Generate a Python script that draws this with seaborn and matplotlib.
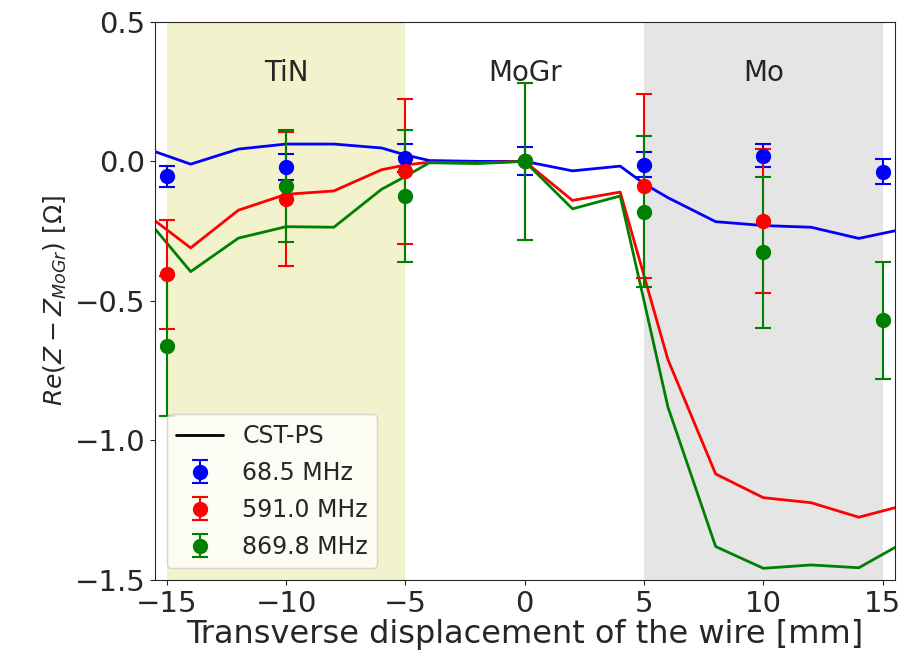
import numpy as np
import pandas as pd
import seaborn as sns
import matplotlib
matplotlib.use("Agg")
import matplotlib.pyplot as plt
from matplotlib.lines import Line2D

sns.set_style("ticks")
plt.rcParams['font.family'] = ['DejaVu Sans']

# CST-PS simulation curves
sim_x = [-16, -14, -12, -10, -8, -6, -5, -4, -2, 0, 2, 4, 5, 6, 8, 10, 12, 14, 16]
sim_68 = [0.05, -0.01, 0.044, 0.062, 0.062, 0.048, 0.023, 0.003, 0.0, 0.0,
          -0.034, -0.017, -0.08, -0.13, -0.216, -0.23, -0.236, -0.276, -0.24]
sim_591 = [-0.18, -0.31, -0.175, -0.118, -0.106, -0.03, -0.013, -0.003, -0.005, 0.0,
           -0.14, -0.11, -0.41, -0.71, -1.12, -1.205, -1.223, -1.275, -1.23]
sim_870 = [-0.19, -0.395, -0.275, -0.234, -0.236, -0.10, -0.054, -0.005, -0.008, 0.0,
           -0.17, -0.124, -0.50, -0.88, -1.38, -1.458, -1.446, -1.456, -1.36]

# measurements
meas_x = [-15, -10, -5, 0, 5, 10, 15]
meas_68 = [-0.054, -0.02, 0.011, 0.0, -0.012, 0.021, -0.037]
err_68 = [0.037, 0.045, 0.05, 0.05, 0.045, 0.042, 0.044]
meas_591 = [-0.405, -0.134, -0.036, 0.0, -0.088, -0.213, np.nan]
err_591 = [0.195, 0.24, 0.26, 0.28, 0.33, 0.258, np.nan]
meas_870 = [-0.662, -0.088, -0.124, 0.0, -0.18, -0.326, -0.57]
err_870 = [0.25, 0.2, 0.238, 0.28, 0.27, 0.27, 0.21]

freqs = ["68.5 MHz", "591.0 MHz", "869.8 MHz"]
colors = ["blue", "red", "green"]

sim = pd.DataFrame({
    "x": sim_x * 3,
    "val": sim_68 + sim_591 + sim_870,
    "freq": [freqs[0]] * len(sim_x) + [freqs[1]] * len(sim_x) + [freqs[2]] * len(sim_x),
})

fig = plt.figure(figsize=(9.11, 6.61), dpi=100)
ax = fig.add_axes([0.170, 0.1225, 0.812, 0.8445])

ax.axvspan(-15, -5, color="y", alpha=0.2, lw=0)
ax.axvspan(5, 15, color="gray", alpha=0.2, lw=0)

sns.lineplot(data=sim, x="x", y="val", hue="freq", palette=colors,
             linewidth=2, legend=False, ax=ax)

meas = [(meas_68, err_68), (meas_591, err_591), (meas_870, err_870)]
handles = [Line2D([], [], color="black", lw=2, label="CST-PS")]
for (m, e), c, lab in zip(meas, colors, freqs):
    h = ax.errorbar(meas_x, m, yerr=e, fmt="o", color=c, markersize=10,
                    capsize=6, elinewidth=1.5, capthick=1.5, label=lab)
    handles.append(h)

for xt, t in [(-10, "TiN"), (0, "MoGr"), (10, "Mo")]:
    ax.text(xt, 0.315, t, ha="center", va="center", fontsize=20)

ax.set_xlim(-15.5, 15.5)
ax.set_ylim(-1.5, 0.5)
ax.set_xticks([-15, -10, -5, 0, 5, 10, 15])
ax.set_yticks([-1.5, -1.0, -0.5, 0.0, 0.5])
ax.tick_params(labelsize=21)
ax.set_xlabel("Transverse displacement of the wire [mm]", fontsize=23, labelpad=1)
ax.set_ylabel(r"$Re(Z-Z_{MoGr})$ [$\Omega$]", fontsize=18)
ax.legend(handles=handles, loc="lower left", fontsize=17, labelspacing=0.55)

fig.savefig("out.png", dpi=100)
